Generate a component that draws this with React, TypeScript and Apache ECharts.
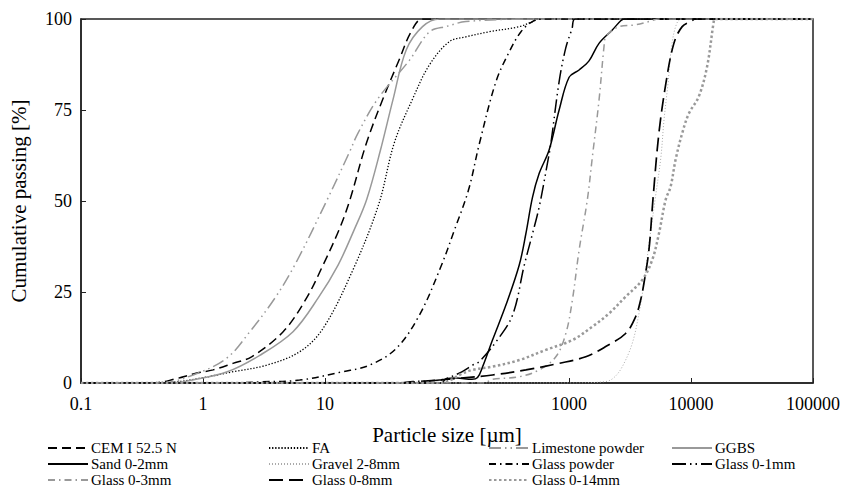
import React, { useEffect, useRef } from "react";
import * as echarts from "echarts";

// Particle sizes [µm] and cumulative passing [%] per material
const cemSize = [0.1, 0.4, 0.59, 0.86, 1.21, 1.76, 2.5, 4.54, 7.05, 9.64, 13, 15.9, 21.8, 29.8, 40.8, 50.8, 63.3, 100000];
const cemPass = [0, 0, 1.1, 2.6, 3.6, 5.4, 7.2, 14.1, 23.3, 32.4, 42, 50, 65.8, 78, 89, 96.5, 100, 100];

const faSize = [0.1, 0.54, 0.94, 1.77, 3.32, 6.21, 9.64, 16.9, 27.5, 37, 52.5, 71.8, 104.7, 143, 222, 391, 502, 570, 100000];
const faPass = [0, 0.2, 1.3, 3.1, 4.9, 8.6, 15, 31, 49, 66, 78.2, 87.4, 93.8, 95.1, 96.5, 97.9, 99.3, 100, 100];

const limeSize = [0.1, 0.45, 0.83, 1.56, 2.42, 3.88, 5.65, 10.3, 15.9, 18.6, 27, 49.3, 72, 100, 143, 500, 100000];
const limePass = [0, 0, 2.2, 6.8, 14.1, 23.3, 32.4, 50, 63.5, 68.6, 78, 88.7, 96.5, 98, 99.3, 100, 100];

const ggbsSize = [0.1, 0.55, 0.78, 1.56, 2.92, 5.47, 8.77, 12.8, 17.3, 22, 28.5, 36, 46.3, 63, 87, 100000];
const ggbsPass = [0, 0, 0.7, 3, 7.6, 14.1, 23.3, 32.4, 42, 50.5, 64, 77.7, 91.5, 97.9, 100, 100];

const sandSize = [0.1, 90, 98, 120, 160, 178, 196, 236, 304, 391, 443, 502, 570, 687, 830, 1002, 1210, 1459, 1762, 2265, 2654, 2825, 100000];
const sandPass = [0, 0, 1.2, 1.4, 1.0, 1.5, 4.5, 11.8, 21.4, 32.4, 41, 51, 57.6, 64, 75, 84, 86, 88.5, 93.3, 97, 99.5, 100, 100];

const gravelSize = [0.1, 1000, 1999, 2339, 2735, 3300, 3741, 4113, 4519, 5058, 5663, 5998, 6466, 6970, 7650, 8411, 100000];
const gravelPass = [0, 0, 0.4, 1.5, 4.5, 10.9, 19, 27.4, 38, 50, 62, 72, 82, 93, 98.8, 100, 100];

const gpSize = [0.1, 1.7, 2.9, 6.2, 14, 23.2, 38.4, 59.5, 88, 115, 150, 185, 252, 324, 404, 502, 626, 100000];
const gpPass = [0, 0, 0.3, 0.8, 3.1, 4.9, 9.5, 18.7, 31.5, 42, 53, 66, 82.8, 91, 96.5, 99.3, 100, 100];

const g01Size = [0.1, 40, 52.5, 86.7, 126, 162, 184, 252, 345, 430, 502, 570, 666, 710, 830, 940, 1060, 1120, 100000];
const g01Pass = [0, 0, 0.4, 0.8, 2.7, 4.9, 5.9, 11.3, 18.7, 32.4, 41, 48.4, 60.4, 65.8, 82.8, 92, 97.4, 100, 100];

const g03Size = [0.1, 200, 236, 391, 570, 780, 942, 1066, 1210, 1413, 1553, 1762, 1936, 1999, 2570, 3517, 4519, 5455, 100000];
const g03Pass = [0, 0, 1, 1.7, 3.6, 7.2, 13.6, 22.8, 36.5, 50.3, 62, 77.7, 92.4, 95, 97.9, 98.4, 99.3, 100, 100];

const g08Size = [0.1, 40, 59.5, 126, 236, 443, 830, 1372, 1999, 2911, 3517, 3866, 4113, 4519, 4873, 5455, 6223, 7240, 8467, 10210, 10740, 100000];
const g08Pass = [0, 0, 0.4, 1.3, 2.2, 3.6, 5.4, 7.2, 10, 13.6, 18.2, 22.8, 27.4, 36.5, 50.3, 68.6, 82.3, 93.3, 97.9, 99.5, 100, 100];

const g014Size = [0.1, 90, 110, 126, 162, 236, 391, 646, 1066, 1553, 2128, 2911, 3983, 4808, 5455, 6194, 6801, 7470, 8467, 9593, 11580, 13540, 15360, 15660, 100000];
const g014Pass = [0, 0, 1, 2.2, 3.6, 4.5, 6.3, 9.1, 11.8, 15.5, 19.1, 23.7, 28.3, 33.8, 41, 50.3, 53.9, 61.3, 68.6, 74, 78.7, 86.9, 99.3, 100, 100];

const xTicks = ["0.1", "1", "10", "100", "1000", "10000", "100000"];
const yTicks = ["0", "25", "50", "75", "100"];

const legendCols = [
  ["CEM I 52.5 N", "Sand 0-2mm", "Glass 0-3mm"],
  ["FA", "Gravel 2-8mm", "Glass 0-8mm"],
  ["Limestone powder", "Glass powder", "Glass 0-14mm"],
  ["GGBS", "Glass 0-1mm"],
];

const FONT = "Liberation Serif";

function pairs(xs: number[], ys: number[]) {
  return xs.map((x, i) => [x, ys[i]]);
}

export default function App() {
  const ref = useRef<HTMLDivElement>(null);
  useEffect(() => {
    document.body.style.margin = "0";
    const chart = echarts.init(ref.current!, null, { renderer: "svg" });
    const mk = (name: string, xs: number[], ys: number[], color: string, width: number, type: any) => ({
      name,
      type: "line",
      data: pairs(xs, ys),
      showSymbol: false,
      symbol: "none",
      smooth: 0.35,
      lineStyle: { color, width, type, cap: "butt" },
      itemStyle: { color },
    });
    const series = [
      mk("CEM I 52.5 N", cemSize, cemPass, "#000", 1.5, [9, 5]),
      mk("FA", faSize, faPass, "#000", 1.3, [1.3, 1.8]),
      mk("Limestone powder", limeSize, limePass, "#999", 1.5, [12, 4, 1.5, 4, 1.5, 4]),
      mk("GGBS", ggbsSize, ggbsPass, "#999", 1.5, "solid"),
      mk("Sand 0-2mm", sandSize, sandPass, "#000", 1.5, "solid"),
      mk("Gravel 2-8mm", gravelSize, gravelPass, "#aaa", 1, [1, 2]),
      mk("Glass powder", gpSize, gpPass, "#000", 1.5, [7, 4, 1.5, 4]),
      mk("Glass 0-1mm", g01Size, g01Pass, "#000", 1.5, [14, 4, 1.5, 4, 1.5, 4]),
      mk("Glass 0-3mm", g03Size, g03Pass, "#999", 1.5, [7, 4, 1.5, 4]),
      mk("Glass 0-8mm", g08Size, g08Pass, "#000", 1.7, [14, 6]),
      mk("Glass 0-14mm", g014Size, g014Pass, "#999", 2.5, [2.5, 2.5]),
    ];
    const colLeft = [47, 268, 488, 671];
    const legend = legendCols.map((names, i) => ({
      data: names,
      orient: "vertical",
      left: colLeft[i],
      top: 440,
      itemWidth: 40,
      itemHeight: 14,
      itemGap: 0,
      padding: 0,
      selectedMode: false,
      itemStyle: { opacity: 0 },
      textStyle: { fontFamily: FONT, fontSize: 15, color: "#000", padding: [0, 0, 0, -2], lineHeight: 16 },
    }));
    chart.setOption({
      animation: false,
      backgroundColor: "#fff",
      textStyle: { fontFamily: FONT },
      grid: { left: 81, right: 28, top: 19, bottom: 116, show: true, borderColor: "#222", borderWidth: 1.5 },
      legend,
      xAxis: {
        type: "log",
        logBase: 10,
        min: 0.1,
        max: 100000,
        name: "Particle size [µm]",
        nameLocation: "middle",
        nameGap: 41,
        nameTextStyle: { fontFamily: FONT, fontSize: 21, color: "#000" },
        axisLine: { lineStyle: { color: "#222", width: 1.5 } },
        axisTick: { inside: true, length: 5, lineStyle: { color: "#222", width: 1 } },
        splitLine: { show: false },
        minorTick: { show: false },
        axisLabel: {
          fontFamily: FONT,
          fontSize: 18,
          color: "#000",
          margin: 12,
          formatter: (v: number) => xTicks[Math.round(Math.log10(v)) + 1] ?? "",
        },
      },
      yAxis: {
        type: "value",
        min: 0,
        max: 100,
        interval: 25,
        name: "Cumulative passing [%]",
        nameLocation: "middle",
        nameGap: 52,
        nameTextStyle: { fontFamily: FONT, fontSize: 21, color: "#000" },
        axisLine: { show: true, lineStyle: { color: "#222", width: 1.5 } },
        axisTick: { show: true, inside: true, length: 5, lineStyle: { color: "#222", width: 1 } },
        splitLine: { show: false },
        axisLabel: {
          fontFamily: FONT,
          fontSize: 18,
          color: "#000",
          margin: 9,
          formatter: (v: number) => yTicks[Math.round(v / 25)] ?? "",
        },
      },
      series,
    });
    return () => chart.dispose();
  }, []);
  return <div ref={ref} style={{ width: 843, height: 499 }} />;
}
